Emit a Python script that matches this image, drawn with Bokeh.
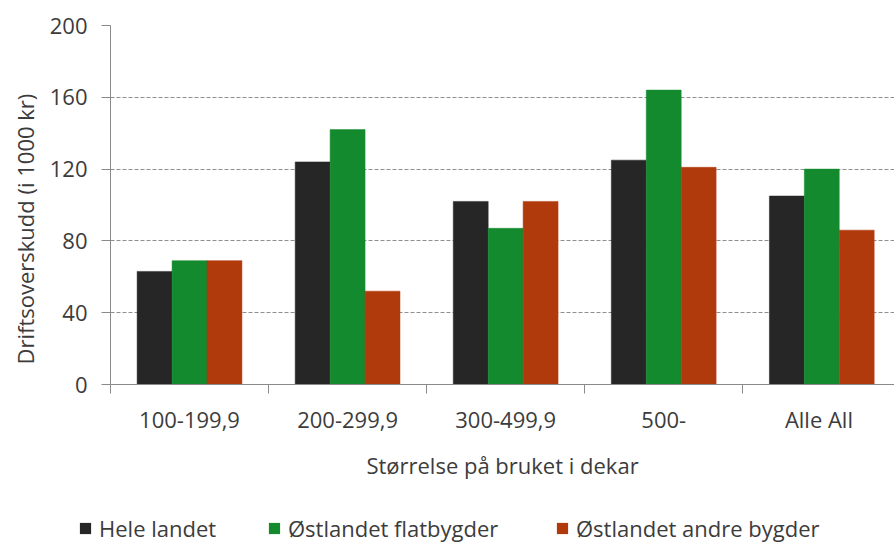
import numpy as np
from bokeh.plotting import figure
from bokeh.layouts import column
from bokeh.models import (Range1d, FixedTicker, Legend, LegendItem, Title)
from bokeh.embed import file_html
from bokeh.resources import INLINE

categories = ["100-199,9", "200-299,9", "300-499,9", "500-", "Alle  All"]
series_names = ["Hele landet", "Østlandet flatbygder", "Østlandet andre bygder"]
hele_landet = [63, 124, 102, 125, 105]
flatbygder = [69, 142, 87, 164, 120]
andre_bygder = [69, 52, 102, 121, 86]
y_ticks = [0, 40, 80, 120, 160, 200]
colors = ["#262626", "#148a2f", "#b13a0c"]
y_title = "Driftsoverskudd (i 1000 kr)"
x_title = "Størrelse på bruket i dekar"

FONT = "Open Sans"
FS = "22px"
TXT = "#3c3c3c"
GRAY = "#8a8a8a"

p = figure(width=894, height=505, output_backend="svg", toolbar_location=None,
           x_range=Range1d(0, 4.96), y_range=Range1d(0, 200),
           min_border_left=109, min_border_right=0, min_border_top=25,
           min_border_bottom=121)
p.frame_align = False
p.outline_line_color = None
p.background_fill_color = "white"
p.border_fill_color = "white"

centers = np.arange(len(categories)) + 0.5
bw = 0.221
series = [hele_landet, flatbygder, andre_bygder]
for i, (vals, col) in enumerate(zip(series, colors)):
    p.vbar(x=centers + (i - 1) * bw, top=vals, width=bw, bottom=0,
           fill_color=col, line_color=col, line_width=0.5)

# axes
xa = p.xaxis[0]
xa.ticker = FixedTicker(ticks=list(centers), minor_ticks=list(range(len(categories) + 1)))
xa.major_label_overrides = {float(c): lab for c, lab in zip(centers, categories)}
xa.major_tick_out = 0
xa.major_tick_in = 0
xa.minor_tick_out = 9
xa.minor_tick_in = 0
xa.minor_tick_line_color = GRAY
xa.axis_line_color = GRAY
xa.major_label_standoff = 10
xa.major_label_text_font = FONT
xa.major_label_text_font_size = FS
xa.major_label_text_color = TXT
xa.axis_label = x_title
xa.axis_label_text_font = FONT
xa.axis_label_text_font_size = FS
xa.axis_label_text_font_style = "normal"
xa.axis_label_text_color = TXT
xa.axis_label_standoff = 13

ya = p.yaxis[0]
ya.ticker = FixedTicker(ticks=y_ticks)
ya.major_tick_out = 9
ya.major_tick_in = 0
ya.minor_tick_out = 0
ya.minor_tick_in = 0
ya.major_tick_line_color = GRAY
ya.axis_line_color = GRAY
ya.major_label_standoff = 14
ya.major_label_text_font = FONT
ya.major_label_text_font_size = FS
ya.major_label_text_color = TXT

p.xgrid.grid_line_color = None
p.ygrid.ticker = FixedTicker(ticks=y_ticks[1:])
p.ygrid.grid_line_color = "#909090"
p.ygrid.grid_line_dash = "4 2"
p.ygrid.grid_line_width = 1

# y axis title, placed off-centre like the original
p.add_layout(Title(text=y_title, align="left", offset=20, standoff=14,
                   text_font=FONT, text_font_size=FS, text_font_style="normal",
                   text_color=TXT), "left")

# legend strip below the chart
q = figure(width=894, height=38, output_backend="svg", toolbar_location=None,
           x_range=Range1d(0, 894), y_range=Range1d(0, 38),
           min_border_left=0, min_border_right=0, min_border_top=0, min_border_bottom=0,
           x_axis_type=None, y_axis_type=None)
q.frame_align = False
q.outline_line_color = None
q.xgrid.grid_line_color = None
q.ygrid.grid_line_color = None
leg_x = [78, 267, 555]
for name, col, lx in zip(series_names, colors, leg_x):
    r = q.vbar(x=[0], top=[0], width=0, fill_color=col, line_color=None)
    lg = Legend(items=[LegendItem(label=name, renderers=[r])], location=(lx, 0),
                orientation="horizontal", padding=0, margin=0, spacing=0,
                glyph_width=14, glyph_height=14, label_standoff=7,
                label_text_font=FONT, label_text_font_size=FS,
                label_text_color=TXT, border_line_color=None,
                background_fill_alpha=0)
    q.add_layout(lg, "center")

layout = column(p, q, spacing=0)
html = file_html(layout, INLINE)
open("out.html", "w").write(html)
